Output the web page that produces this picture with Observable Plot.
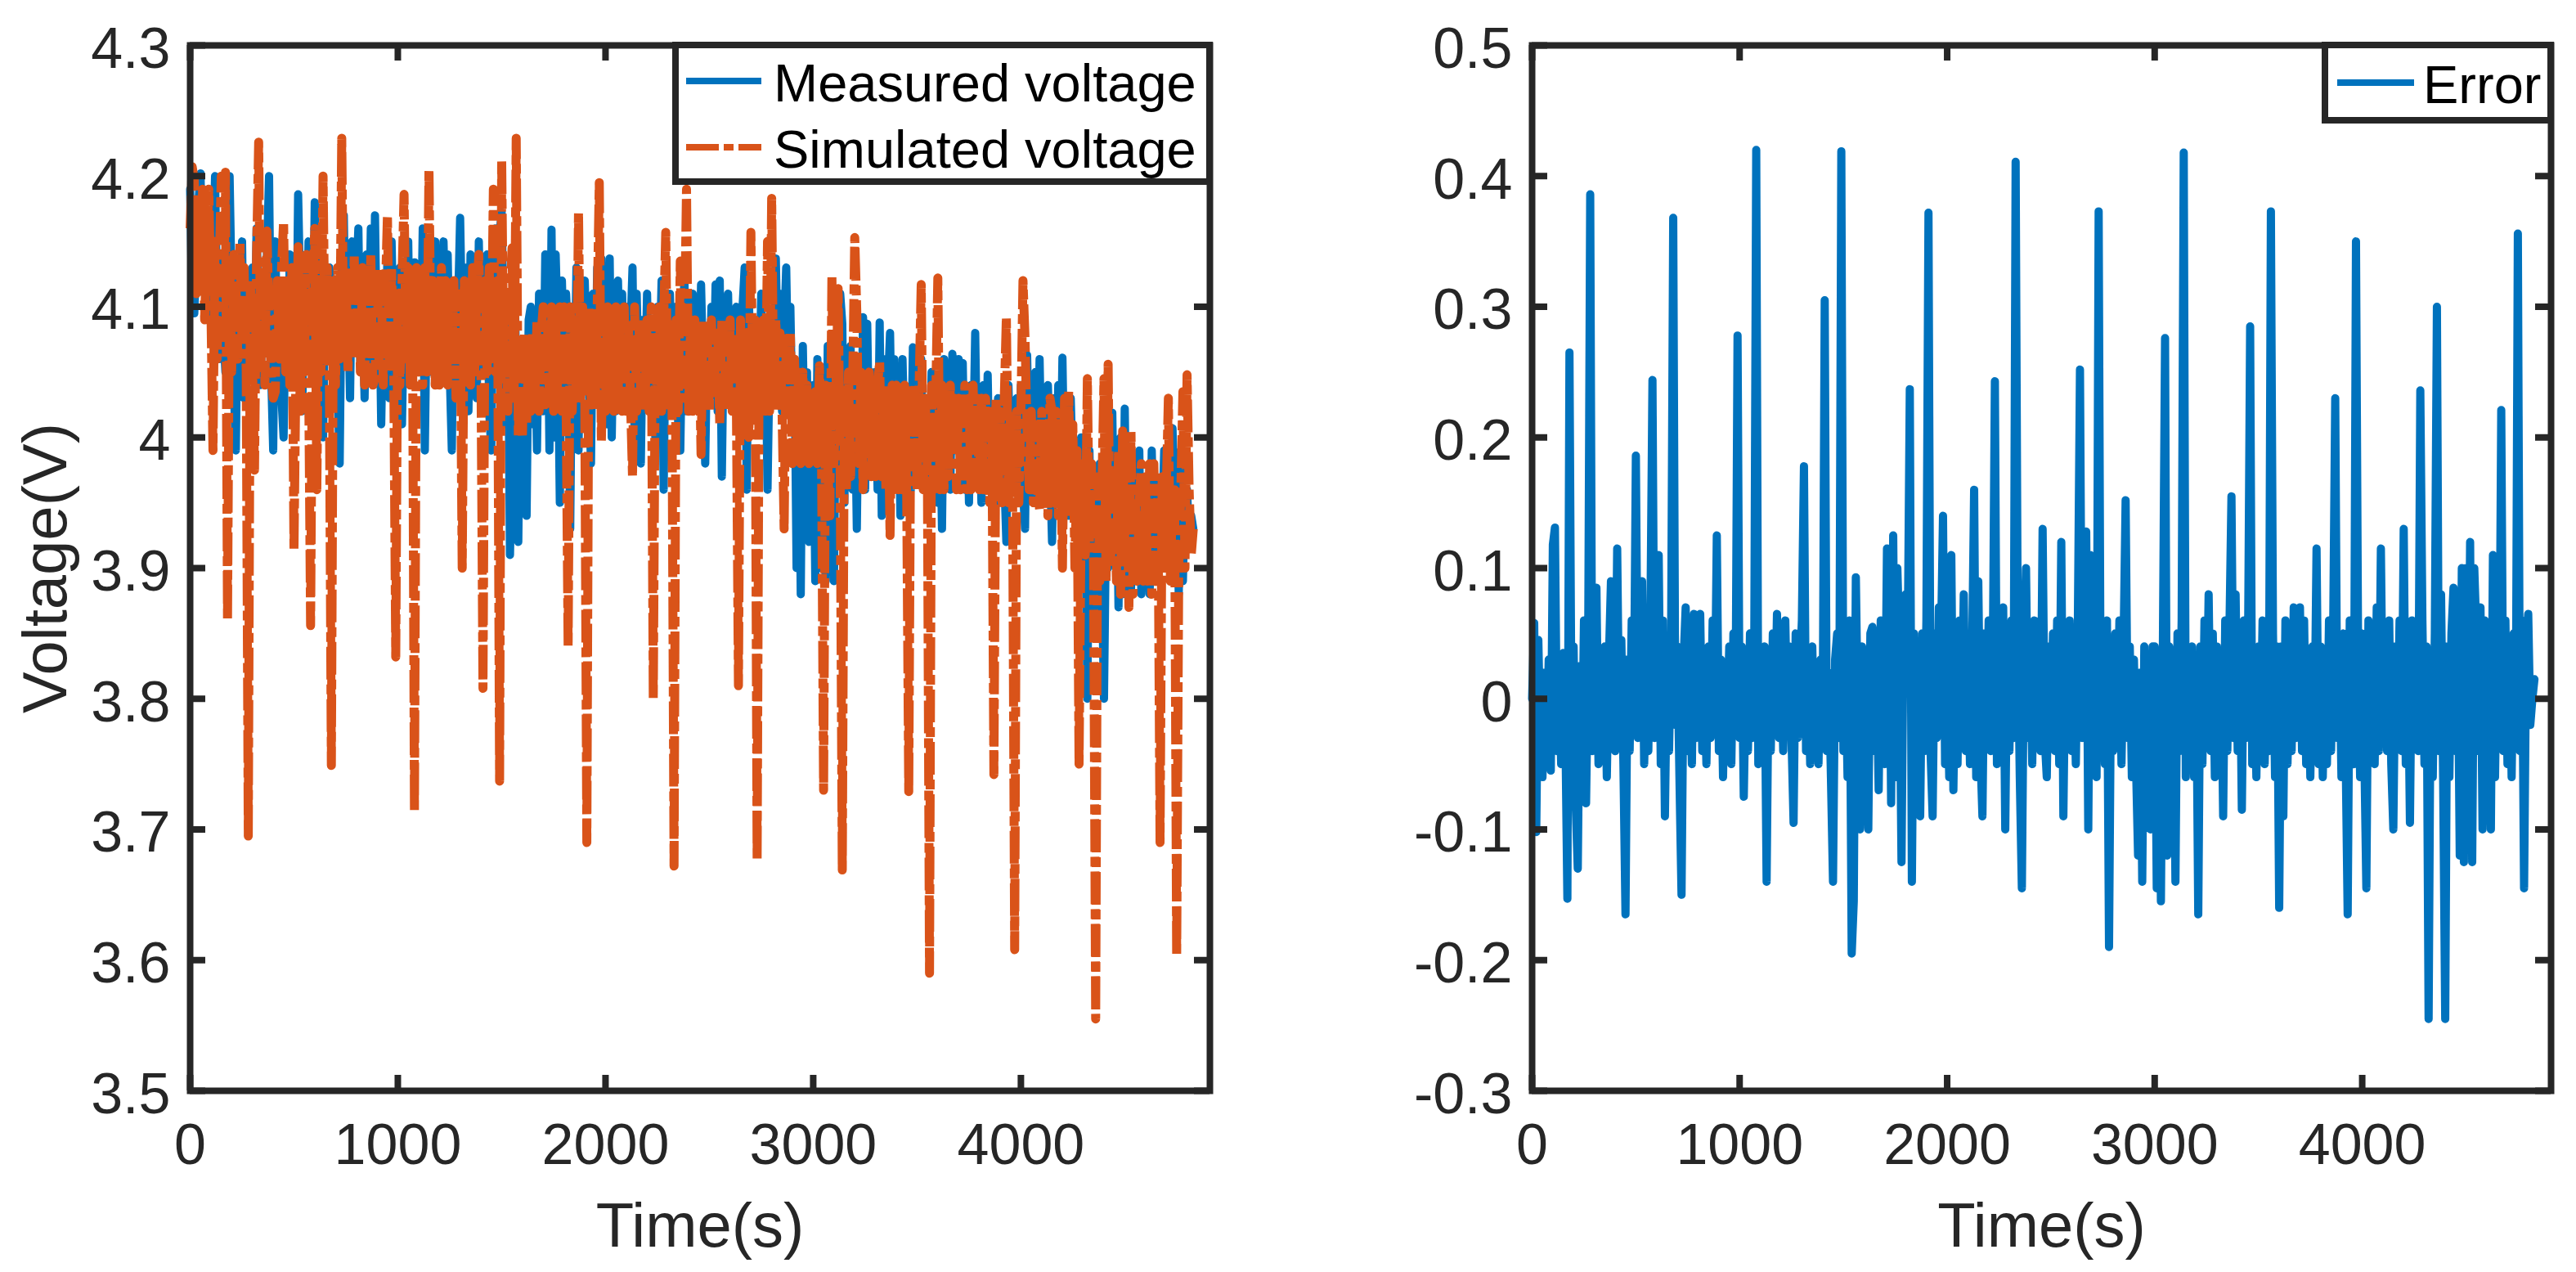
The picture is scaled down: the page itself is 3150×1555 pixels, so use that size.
<!DOCTYPE html>
<html>
<head>
<meta charset="utf-8">
<script src="https://cdn.jsdelivr.net/npm/d3@7"></script>
<script src="https://cdn.jsdelivr.net/npm/@observablehq/plot@0.6"></script>
<style>
  html, body { margin: 0; padding: 0; background: #fff; overflow: hidden; }
  #page { position: relative; width: 3150px; height: 1555px; background: #fff;
          font-family: "Liberation Sans", Arial, Helvetica, sans-serif; }
  .panel { position: absolute; top: 0; }
  #legend { position: absolute; left: 0; top: 0; pointer-events: none; }
</style>
</head>
<body>
<div id="page">
  <div id="leftPanel" class="panel" style="left:0px"></div>
  <div id="rightPanel" class="panel" style="left:1560px"></div>
</div>
<script>
// ---------------- data ----------------
const STEP_S = 10;          // sampling interval of the arrays below, seconds
const X_MAX = 4910;         // right end of the time axis

const xTicks = [0, 1000, 2000, 3000, 4000];
const xTickLabels = ["0", "1000", "2000", "3000", "4000"];
const voltTicks = [3.5, 3.6, 3.7, 3.8, 3.9, 4.0, 4.1, 4.2, 4.3];
const voltTickLabels = ["3.5", "3.6", "3.7", "3.8", "3.9", "4", "4.1", "4.2", "4.3"];
const errTicks = [-0.3, -0.2, -0.1, 0, 0.1, 0.2, 0.3, 0.4, 0.5];
const errTickLabels = ["-0.3", "-0.2", "-0.1", "0", "0.1", "0.2", "0.3", "0.4", "0.5"];

const seriesNames = ["Measured voltage", "Simulated voltage", "Error"];

// measured voltage, mV, one value every 10 s
const measuredMv = [
  4190, 4100, 4095, 4140, 4180, 4202, 4120, 4150, 4110, 4160,
  4090, 4130, 4200, 4100, 4060, 4140, 4080, 4050, 4125, 4200,
  4110, 4040, 3990, 4120, 4070, 4150, 4030, 4110, 4080, 4060,
  4130, 4060, 4160, 4090, 4040, 4120, 4070, 4140, 4200, 4050,
  3990, 4150, 4060, 4120, 4030, 4000, 4100, 4050, 4140, 4080,
  4100, 4040, 4186, 4110, 4020, 4130, 4060, 4150, 4100, 4050,
  4180, 4070, 4020, 4140, 4000, 4110, 4060, 4130, 4117, 4030,
  4100, 4040, 3980, 4130, 4170, 4060, 4110, 4030, 4150, 4070,
  4120, 4160, 4050, 4100, 4030, 4140, 4070, 4160, 4040, 4170,
  4060, 4120, 4010, 4100, 4050, 4140, 4030, 4150, 4070, 4110,
  4050, 4130, 4010, 4100, 4060, 4150, 4040, 4110, 4134, 4060,
  4120, 4060, 4160, 3990, 4110, 4050, 4140, 4070, 4150, 4040,
  4130, 4060, 4150, 4080, 4140, 4050, 3990, 4120, 4040, 4100,
  4168, 4078, 4040, 4130, 4020, 4140, 4060, 4110, 4030, 4150,
  4050, 4113, 4060, 4140, 4020, 3990, 4120, 4160, 4050, 4156,
  4172, 4080, 4010, 4110, 3910, 3990, 4140, 4050, 3920, 4060,
  3960, 4070, 3940, 4090, 4100, 4010, 4080, 3990, 4110, 4060,
  4020, 4140, 4130, 3990, 4159, 4000, 4140, 4080, 3950, 4120,
  4060, 4110, 4077, 3930, 4100, 4020, 4130, 3990, 4110, 4050,
  4120, 4062, 4040, 3980, 4110, 4030, 4130, 4080, 4137, 4020,
  4090, 4010, 4137, 4000, 4100, 4020, 4120, 4040, 4110, 4030,
  4100, 4020, 4080, 4130, 4000, 4110, 4040, 3980, 4090, 4030,
  4110, 4030, 4080, 4043, 4000, 4100, 4050, 4120, 3960, 4090,
  4030, 4110, 4040, 4083, 4100, 4010, 3990, 4090, 4120, 4020,
  4090, 4020, 4110, 4040, 4100, 4030, 4117, 4050, 3980, 4080,
  4030, 4100, 4040, 4117, 4020, 4120, 3970, 4090, 4040, 4110,
  4030, 4090, 4020, 4100, 4062, 4040, 4100, 4130, 3960, 4110,
  4030, 4090, 4020, 4049, 4040, 4110, 4010, 4080, 3960, 4060,
  4090, 4030, 4137, 4050, 4110, 4020, 4080, 4130, 4040, 4100,
  4010, 4060, 3900, 4040, 3880, 4070, 3980, 4050, 3920, 4030,
  4040, 3890, 4060, 3900, 4050, 4006, 3890, 4070, 3970, 4050,
  3890, 4060, 3980, 4110, 4087, 3950, 4040, 3980, 4070, 3960,
  4040, 3930, 4060, 3980, 4092, 3960, 4087, 3990, 4050, 3970,
  4050, 3960, 4088, 3940, 4060, 3990, 4040, 4080, 3980, 4060,
  3970, 4050, 3940, 4060, 3990, 4030, 4014, 3960, 4069, 3980,
  4040, 3980, 4060, 3960, 4030, 3990, 3963, 4050, 3960, 4040,
  3950, 4030, 3930, 4060, 3970, 4040, 3960, 4064, 3990, 4040,
  4060, 3980, 4057, 3960, 4030, 3950, 4040, 3990, 4080, 3970,
  4030, 3950, 4040, 3970, 4048, 3960, 4020, 3972, 3980, 4030,
  3950, 4030, 3970, 3920, 4040, 3980, 3960, 3958, 4030, 3950,
  4040, 3960, 3930, 4063, 3980, 4030, 3950, 4050, 3970, 4060,
  3970, 4030, 3960, 4040, 3980, 3920, 4030, 3970, 4040, 3960,
  4061, 3960, 4020, 3940, 4030, 3970, 3950, 3930, 3986, 4000,
  3920, 3960, 3800, 3990, 3900, 3970, 3855, 3920, 3980, 3890,
  3800, 3940, 3900, 3980, 4019, 3910, 3990, 3870, 4000, 3880,
  4022, 3900, 3990, 3880, 3980, 3950, 3900, 3990, 3880, 3970,
  3890, 3960, 3880, 3990, 3920, 3970, 3900, 3911, 3930, 3990,
  3900, 3970, 3910, 4007, 3940, 3959, 3880, 3990, 3890, 3960,
  3960, 3920, 3940, 3930
];

// simulated voltage, mV, one value every 10 s
const simulatedMv = [
  4160, 4207, 4197, 4110, 4180, 4120, 4190, 4090, 4150, 4190,
  4100, 3990, 4150, 4060, 4130, 4200, 4080, 4203, 3860, 4140,
  4050, 4140, 4120, 4060, 4150, 4070, 4130, 4050, 3695, 4120,
  4060, 3975, 4140, 4226, 4050, 4130, 4040, 4158, 4090, 4050,
  4030, 4035, 4120, 4060, 4130, 4165, 4050, 4120, 4040, 4130,
  3914, 4060, 4146, 4020, 4120, 4050, 4140, 4060, 3856, 4110,
  4160, 3960, 4120, 4050, 4200, 4060, 4130, 4050, 3749, 4120,
  4040, 4130, 4060, 4229, 4060, 4130, 4050, 4120, 4060, 4140,
  4060, 4120, 4050, 4130, 4040, 4120, 4060, 4140, 4040, 4045,
  4130, 4050, 4120, 4040, 4110, 4170, 4050, 4130, 4060, 3832,
  4110, 4040, 4120, 4186, 4060, 4130, 4040, 4120, 3714, 4130,
  4050, 4120, 4040, 4130, 4050, 4205, 4060, 4120, 4040, 4110,
  4040, 4130, 4050, 4120, 4040, 4110, 4060, 4120, 4030, 4110,
  4108, 3900, 4120, 4050, 4110, 4040, 4130, 4050, 4110, 4140,
  4060, 3808, 4120, 4050, 4130, 4060, 4190, 4050, 4120, 3737,
  4212, 4050, 4100, 4020, 4105, 4145, 4030, 4229, 4000, 4060,
  4000, 4080, 4010, 4070, 4020, 4080, 4030, 4090, 4020, 4080,
  4100, 4025, 4090, 4030, 4100, 4020, 4090, 4030, 4100, 4020,
  4100, 4030, 3840, 4100, 4020, 4090, 4030, 4172, 4030, 4100,
  4030, 3690, 4100, 4030, 4090, 4020, 4100, 4195, 3997, 4090,
  4020, 4100, 4027, 4090, 4020, 4100, 4030, 4090, 4020, 4100,
  4020, 4090, 4030, 3970, 4100, 4020, 4090, 4030, 4090, 4020,
  4090, 4020, 4100, 3800, 4080, 4020, 4100, 4020, 4090, 4157,
  4020, 4090, 4030, 3672, 4090, 4020, 4135, 4030, 4080, 4190,
  4020, 4090, 4020, 4090, 4030, 4080, 3987, 4090, 4020, 4080,
  4020, 4090, 4030, 4057, 4080, 4010, 4090, 4020, 4080, 4020,
  4090, 4020, 4080, 4030, 3810, 4090, 4020, 4002, 4080, 4000,
  4157, 4020, 4090, 3676, 4080, 4020, 4090, 4020, 4150, 4020,
  4183, 4030, 4090, 4020, 4080, 4020, 3930, 4080, 4020, 4080,
  3980, 4060, 3990, 4050, 3980, 4050, 3990, 4040, 3980, 4030,
  3990, 4035, 3980, 4055, 3990, 3730, 4040, 3980, 3940, 4124,
  3980, 4040, 4114, 3970, 3669, 4040, 3960, 4050, 3970, 4040,
  4153, 4095, 3980, 4050, 3960, 4040, 4007, 4050, 3970, 4040,
  3970, 4040, 4058, 3970, 4040, 3960, 4030, 3925, 4040, 3960,
  4040, 3960, 4025, 3960, 4040, 3960, 3729, 4040, 3980, 4040,
  3960, 4040, 4117, 3960, 4030, 3970, 3590, 4040, 3960, 4030,
  4122, 3960, 4040, 3960, 4030, 3970, 4040, 3994, 4030, 3960,
  4030, 3960, 3997, 4040, 3960, 4030, 3960, 4040, 3965, 4030,
  3960, 4030, 3960, 4030, 3988, 3950, 4020, 3742, 4030, 3950,
  4020, 3950, 4030, 4092, 3950, 4020, 3960, 3608, 4020, 3950,
  4020, 4120, 4075, 4003, 3960, 4020, 3950, 4010, 3960, 3945,
  4020, 3950, 4010, 3940, 4030, 4020, 3950, 4020, 3940, 4010,
  3900, 4030, 3950, 4035, 3940, 4010, 3900, 3990, 3750, 3940,
  3980, 3910, 4045, 3920, 3980, 3900, 3555, 3970, 3890, 3960,
  4045, 3890, 4056, 3900, 3934, 3960, 3890, 3990, 3880, 4005,
  3922, 3970, 3870, 4005, 3880, 3960, 3890, 3950, 3980, 3890,
  3970, 3890, 3980, 3880, 3980, 3900, 3960, 3690, 3970, 3900,
  3960, 4030, 3890, 3957, 3960, 3603, 3900, 3960, 4035, 3900,
  4048, 3960, 3910, 3930
];

// error (measured - simulated), mV, one value every 10 s
const errorMv = [
  0, 58, -102, 45, -35, -60, 20, -45, 30, -55,
  118, 131, -40, 20, -50, 35, -20, -153, 265, -30,
  40, -80, -130, 25, -60, 60, -80, 30, 386, -40,
  50, 85, -50, 20, -30, 40, -60, 30, 90, -20,
  -40, 115, -30, 45, -50, -165, 30, -40, 60, -20,
  186, -30, 40, 90, -50, 20, -40, 60, 244, -30,
  20, 110, -50, 60, -90, 30, -40, 50, 368, -20,
  40, -60, -150, 30, 70, -40, 20, -50, 65, -30,
  30, 65, -40, 20, -50, 40, -30, 60, -20, 125,
  -40, 30, -60, 20, -30, 40, -50, 50, -20, 278,
  -30, 40, -75, 20, -40, 50, -30, 20, 420, -50,
  20, -30, 40, -140, 30, -40, 50, -20, 65, -30,
  30, -40, 60, -20, 40, -30, -95, 50, -30, 20,
  60, 178, -40, 30, -50, 40, -30, 20, -50, 30,
  -30, 305, -40, 20, -60, -140, 30, 50, -30, 419,
  -40, 30, -60, 60, -195, -155, 93, -20, -100, 40,
  -60, 30, -100, 50, 55, -40, 30, -70, 60, 20,
  -50, 115, 105, -80, 125, -60, 100, 40, -125, 60,
  80, 40, 237, -140, 50, -60, 30, -90, 50, -40,
  60, 372, -40, -90, 50, -30, 70, 40, 140, -50,
  30, -60, 110, -70, 40, -50, 60, -30, 80, -40,
  40, -50, 30, 160, -60, 90, -40, -90, 50, -30,
  60, -40, 30, 243, -50, 40, -30, 70, -100, 50,
  -40, 60, -30, 411, 50, -60, -145, 40, 100, -30,
  40, -50, 60, -30, 50, -40, 130, -30, -60, 40,
  -30, 50, -40, 60, -50, 120, -90, 40, -30, 60,
  -40, 30, -50, 60, 252, -30, 40, 128, -100, 110,
  -40, 50, -60, 373, -30, 40, -50, 60, -190, 30,
  -40, 50, -30, 60, -50, 40, 152, -30, 40, -60,
  30, -50, -120, 20, -140, 40, -60, 30, -100, 40,
  40, -145, 30, -155, 50, 276, -120, 40, -60, 30,
  -140, 50, -40, 60, 418, -60, 30, -50, 40, -60,
  30, -165, 40, -50, 60, -30, 80, -40, 50, -60,
  40, -50, 30, -90, 60, -40, 50, 155, -30, 80,
  -40, 50, -85, 60, -30, 40, 285, -50, 30, -60,
  40, -30, 60, -50, 30, -40, 373, 50, -60, 40,
  -160, 40, -90, 60, -50, 30, -40, 70, -30, 50,
  70, -40, 60, -50, 30, -60, 40, -30, 115, -50,
  40, -60, 30, -50, 60, -40, 50, 230, -30, 40,
  -60, 50, -40, -165, 60, -30, -50, 350, 40, -60,
  50, -40, -145, 60, -30, 40, -50, 70, -40, 115,
  -30, 50, -40, 60, -50, -100, 40, -30, 60, -40,
  130, -50, 40, -95, 60, -30, 50, -40, 236, 60,
  -50, 40, -245, 30, -60, 50, 300, -40, 80, -60,
  -245, 40, -60, 50, 85, -40, 60, -120, 100, -125,
  100, -60, 120, -125, 100, 50, -40, 70, -100, 60,
  -50, 40, -100, 110, -60, 50, -30, 221, -40, 60,
  -50, 40, -60, 50, -30, 356, -40, 60, -145, 40,
  65, -20, 0, 15
];

// ---------------- styling ----------------
const BLUE = "#0072BD";
const ORANGE = "#D95319";
const AXIS = "#262626";
const FONT = '"Liberation Sans", Arial, Helvetica, sans-serif';
const H = 1555, MT = 55, MB = 222;
const TICK_LEN = 19;

const toRows = arr => arr.map((mv, i) => ({t: i * STEP_S, v: mv / 1000}));
const measured = toRows(measuredMv);
const simulated = toRows(simulatedMv);
const errorRows = toRows(errorMv);

function labeler(ticks, labels) {
  return d => labels[ticks.findIndex(v => Math.abs(v - d) < 1e-9)];
}

function panel({width, marginLeft, marginRight, yDomain, yTicks, yLabels, lines, yTitle}) {
  const plotW = width - marginLeft - marginRight;
  const plotH = H - MT - MB;
  const marks = [];
  for (const s of lines) {
    marks.push(Plot.line(s.data, {
      x: "t", y: "v", stroke: s.color, strokeWidth: s.width || 10,
      strokeLinejoin: "round", strokeLinecap: s.dash ? "butt" : "round",
      strokeDasharray: s.dash || null
    }));
  }
  marks.push(
    Plot.frame({stroke: AXIS, strokeWidth: 8}),
    Plot.ruleX(xTicks, {x: d => d, insetTop: plotH - TICK_LEN, stroke: AXIS, strokeWidth: 8}),
    Plot.ruleX(xTicks, {x: d => d, insetBottom: plotH - TICK_LEN, stroke: AXIS, strokeWidth: 8}),
    Plot.ruleY(yTicks, {y: d => d, insetRight: plotW - TICK_LEN, stroke: AXIS, strokeWidth: 8}),
    Plot.ruleY(yTicks, {y: d => d, insetLeft: plotW - TICK_LEN, stroke: AXIS, strokeWidth: 8}),
    Plot.axisX(xTicks, {anchor: "bottom", tickSize: 0, tickPadding: 40, fontSize: 70,
      tickFormat: labeler(xTicks, xTickLabels), label: null, fill: AXIS}),
    Plot.axisY(yTicks, {anchor: "left", tickSize: 0, tickPadding: 24, fontSize: 70, dy: 5,
      tickFormat: labeler(yTicks, yLabels), label: null, fill: AXIS}),
    Plot.text(["Time(s)"], {text: d => d, frameAnchor: "bottom", textAnchor: "middle",
      lineAnchor: "middle", dy: 166, fontSize: 76, fill: AXIS})
  );
  if (yTitle) {
    marks.push(Plot.text([yTitle], {text: d => d, frameAnchor: "left", textAnchor: "middle",
      lineAnchor: "middle", rotate: -90, dx: -176, fontSize: 76, fill: AXIS}));
  }
  return Plot.plot({
    width, height: H,
    marginLeft, marginRight, marginTop: MT, marginBottom: MB,
    x: {domain: [0, X_MAX], label: null},
    y: {domain: yDomain, label: null},
    style: {fontFamily: FONT, background: "transparent", color: AXIS, overflow: "visible"},
    marks
  });
}

const leftChart = panel({
  width: 1560, marginLeft: 232, marginRight: 81,
  yDomain: [3.5, 4.3], yTicks: voltTicks, yLabels: voltTickLabels,
  lines: [
    {data: measured, color: BLUE, width: 10},
    {data: simulated, color: ORANGE, width: 11, dash: "40,6,12,6"}
  ],
  yTitle: "Voltage(V)"
});
document.getElementById("leftPanel").appendChild(leftChart);

const rightChart = panel({
  width: 1590, marginLeft: 313, marginRight: 31,
  yDomain: [-0.3, 0.5], yTicks: errTicks, yLabels: errTickLabels,
  lines: [{data: errorRows, color: BLUE, width: 10}],
  yTitle: null
});
document.getElementById("rightPanel").appendChild(rightChart);

// ---------------- legends (overlay) ----------------
const ns = "http://www.w3.org/2000/svg";
const svg = document.createElementNS(ns, "svg");
svg.setAttribute("id", "legend");
svg.setAttribute("width", 3150);
svg.setAttribute("height", 1555);
function el(tag, attrs, text) {
  const e = document.createElementNS(ns, tag);
  for (const k in attrs) e.setAttribute(k, attrs[k]);
  if (text != null) e.textContent = text;
  svg.appendChild(e);
  return e;
}
// left legend
el("rect", {x: 826, y: 55, width: 653, height: 167, fill: "#fff", stroke: AXIS, "stroke-width": 8});
el("line", {x1: 839, x2: 931, y1: 99, y2: 99, stroke: BLUE, "stroke-width": 8});
el("text", {x: 946, y: 124, "font-size": 65, "font-family": FONT, fill: "#000"}, seriesNames[0]);
el("line", {x1: 839, x2: 931, y1: 180, y2: 180, stroke: ORANGE, "stroke-width": 8, "stroke-dasharray": "40,6,12,6"});
el("text", {x: 946, y: 205, "font-size": 65, "font-family": FONT, fill: "#000"}, seriesNames[1]);
// right legend
el("rect", {x: 2843, y: 55, width: 276, height: 92, fill: "#fff", stroke: AXIS, "stroke-width": 8});
el("line", {x1: 2858, x2: 2952, y1: 101, y2: 101, stroke: BLUE, "stroke-width": 8});
el("text", {x: 2963, y: 126, "font-size": 65, "font-family": FONT, fill: "#000"}, seriesNames[2]);
document.getElementById("page").appendChild(svg);
</script>
</body>
</html>
